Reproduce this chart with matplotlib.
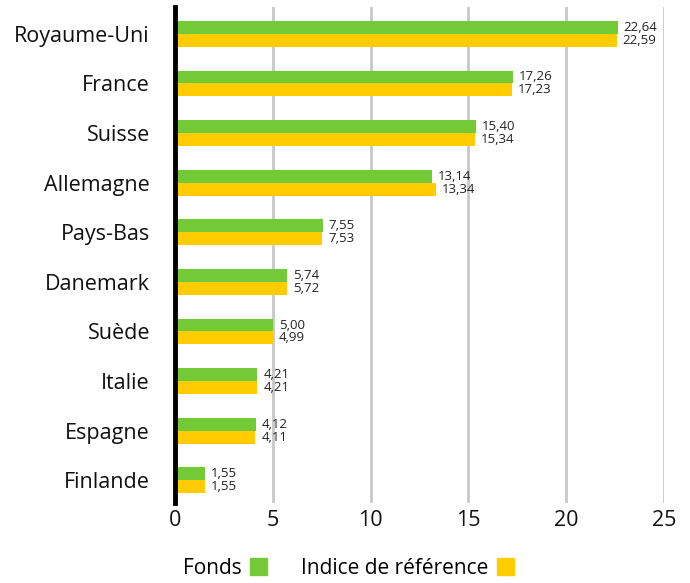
import numpy as np
import matplotlib.pyplot as plt
from matplotlib.patches import Patch

plt.rcParams['font.family'] = ['Open Sans', 'DejaVu Sans']

countries = ['Royaume-Uni', 'France', 'Suisse', 'Allemagne', 'Pays-Bas',
             'Danemark', 'Suède', 'Italie', 'Espagne', 'Finlande']
fonds = [22.64, 17.26, 15.40, 13.14, 7.55, 5.74, 5.00, 4.21, 4.12, 1.55]
indice = [22.59, 17.23, 15.34, 13.34, 7.53, 5.72, 4.99, 4.21, 4.11, 1.55]
series_names = ['Fonds', 'Indice de référence']

green = '#74c936'
yellow = '#ffcc00'

fig = plt.figure(figsize=(6.9, 5.83), dpi=100, facecolor='w')
ax = fig.add_axes([0.2536, 0.137, 0.7087, 0.851])

y = np.arange(len(countries))
h = 0.26
ax.barh(y - h/2, fonds, height=h, color=green, zorder=2)
ax.barh(y + h/2, indice, height=h, color=yellow, zorder=2)

def fmt(v):
    return ('%.2f' % v).replace('.', ',')

for i in range(len(countries)):
    ax.text(fonds[i] + 0.3, y[i] - h/2, fmt(fonds[i]), va='center', ha='left',
            fontsize=9.5, color='#222222')
    ax.text(indice[i] + 0.3, y[i] + h/2, fmt(indice[i]), va='center', ha='left',
            fontsize=9.5, color='#222222')

ax.set_xlim(0, 25)
ax.set_ylim(9.46, -0.54)
ax.set_xticks([0, 5, 10, 15, 20, 25])
ax.set_yticks(y)
ax.set_yticklabels(countries)
ax.tick_params(axis='both', length=0, labelsize=15.5, colors='#111111')
ax.tick_params(axis='y', pad=18)
ax.tick_params(axis='x', pad=5)
ax.xaxis.grid(True, color='#c8c8c8', linewidth=2, zorder=0)
ax.set_axisbelow(True)
for s in ['top', 'right', 'bottom']:
    ax.spines[s].set_visible(False)
ax.spines['left'].set_linewidth(3.5)
ax.spines['left'].set_color('black')
ax.spines['left'].set_zorder(3)

handles = [Patch(color=green), Patch(color=yellow)]
fig.legend(handles, series_names, loc='lower center', bbox_to_anchor=(0.505, -0.025),
           ncol=2, frameon=False, markerfirst=False, fontsize=15,
           handlelength=0.85, handleheight=0.85, handletextpad=0.4, columnspacing=1.6)

fig.savefig('out.png', dpi=100, facecolor='w')
